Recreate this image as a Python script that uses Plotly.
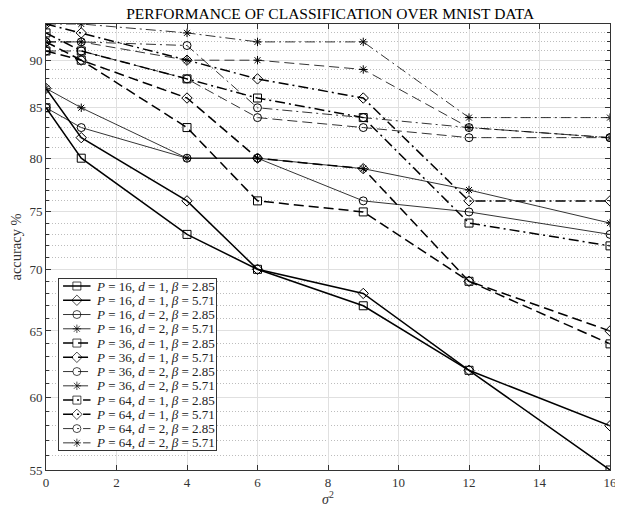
import plotly.graph_objects as go

# ---- data ----
sigma2 = [0, 1, 4, 6, 9, 12, 16]

acc_P16_d1_b285 = [85, 80, 73, 70, 67, 62, 55]
acc_P16_d1_b571 = [87, 82, 76, 70, 68, 62, 58]
acc_P16_d2_b285 = [85, 83, 80, 80, 76, 75, 73]
acc_P16_d2_b571 = [87, 85, 80, 80, 79, 77, 74]

acc_P36_d1_b285 = [91, 90, 83, 76, 75, 69, 64]
acc_P36_d1_b571 = [92, 90, 86, 80, 79, 69, 65]
acc_P36_d2_b285 = [91, 91, 88, 84, 83, 82, 82]
acc_P36_d2_b571 = [92, 92, 90, 90, 89, 83, 82]

acc_P64_d1_b285 = [93, 91, 88, 86, 84, 74, 72]
acc_P64_d1_b571 = [94, 93, 90, 88, 86, 76, 76]
acc_P64_d2_b285 = [92, 92, 91.6, 85, 84, 83, 82]
acc_P64_d2_b571 = [94, 94, 93, 92, 92, 84, 84]

series_names = [
    "<i>P</i> = 16, <i>d</i> = 1, <i>β</i> = 2.85",
    "<i>P</i> = 16, <i>d</i> = 1, <i>β</i> = 5.71",
    "<i>P</i> = 16, <i>d</i> = 2, <i>β</i> = 2.85",
    "<i>P</i> = 16, <i>d</i> = 2, <i>β</i> = 5.71",
    "<i>P</i> = 36, <i>d</i> = 1, <i>β</i> = 2.85",
    "<i>P</i> = 36, <i>d</i> = 1, <i>β</i> = 5.71",
    "<i>P</i> = 36, <i>d</i> = 2, <i>β</i> = 2.85",
    "<i>P</i> = 36, <i>d</i> = 2, <i>β</i> = 5.71",
    "<i>P</i> = 64, <i>d</i> = 1, <i>β</i> = 2.85",
    "<i>P</i> = 64, <i>d</i> = 1, <i>β</i> = 5.71",
    "<i>P</i> = 64, <i>d</i> = 2, <i>β</i> = 2.85",
    "<i>P</i> = 64, <i>d</i> = 2, <i>β</i> = 5.71",
]
series_values = [
    acc_P16_d1_b285, acc_P16_d1_b571, acc_P16_d2_b285, acc_P16_d2_b571,
    acc_P36_d1_b285, acc_P36_d1_b571, acc_P36_d2_b285, acc_P36_d2_b571,
    acc_P64_d1_b285, acc_P64_d1_b571, acc_P64_d2_b285, acc_P64_d2_b571,
]

y_ticks = [55, 60, 65, 70, 75, 80, 85, 90]
x_ticks = [0, 2, 4, 6, 8, 10, 12, 14, 16]

# ---- styles ----
symbols = ["square-open", "diamond-open", "circle-open", "asterisk-open"]
dash_by_P = ["solid", "10px,5px", "10px,4px,2px,4px"]
width_by_d = [1.5, 0.8]

SERIF = "Liberation Serif, DejaVu Serif, serif"
INK = "#333"

fig = go.Figure()


def style(i):
    sym = symbols[i % 4]
    lw = width_by_d[(i % 4) // 2]
    line = dict(color="black", width=lw, dash=dash_by_P[i // 4])
    size = 7 if sym == "asterisk-open" else 8
    return sym, line, size


# main data series
for i, (name, vals) in enumerate(zip(series_names, series_values)):
    sym, line, size = style(i)
    fig.add_trace(go.Scatter(
        x=sigma2, y=vals, name=name, mode="lines+markers", showlegend=False,
        line=line,
        marker=dict(symbol=sym, size=size, color="black",
                    line=dict(color="black", width=1.0)),
        xaxis="x", yaxis="y",
    ))

# compact legend drawn in an inset subplot (x2/y2), one row per series
n = len(series_names)
for i, name in enumerate(series_names):
    sym, line, size = style(i)
    row = n - 0.5 - i
    fig.add_trace(go.Scatter(
        x=[0.025, 0.113, 0.2], y=[row, row, row], mode="lines+markers",
        showlegend=False, hoverinfo="skip", line=line,
        marker=dict(symbol=sym, size=[0, size, 0], color="black",
                    line=dict(color="black", width=1.0)),
        xaxis="x2", yaxis="y2",
    ))

legend_text = [
    dict(text=name, xref="x2", yref="y2", x=0.22, y=n - 0.5 - i,
         xanchor="left", yanchor="middle", showarrow=False,
         font=dict(family=SERIF, size=13, color="#222"))
    for i, name in enumerate(series_names)
]

minor_vals = [v for v in range(55, 95) if v not in y_ticks]

fig.update_layout(
    width=615, height=498,
    margin=dict(l=38, r=6, t=16, b=36),
    paper_bgcolor="white", plot_bgcolor="white",
    font=dict(family=SERIF, color="#222", size=13),
    title=dict(text="PERFORMANCE OF CLASSIFICATION OVER MNIST DATA",
               x=0.524, xanchor="center", y=1.0, yanchor="top",
               yref="container", pad=dict(t=0, b=0),
               font=dict(family=SERIF, size=15.5, color="black")),
    showlegend=False,
    xaxis=dict(range=[0, 16], tickvals=x_ticks, ticks="inside", ticklen=5,
               tickcolor=INK, showline=True, linecolor=INK, linewidth=1,
               mirror="allticks", showgrid=True, gridcolor="#e0e0e0", gridwidth=1,
               zeroline=False, ticklabeloverflow="allow",
               tickfont=dict(family=SERIF, size=13, color=INK)),
    yaxis=dict(type="log", range=[1.74036, 1.97313], tickvals=y_ticks,
               ticks="inside", ticklen=5, tickcolor=INK, showline=True,
               linecolor=INK, linewidth=1, mirror="allticks", showgrid=True,
               gridcolor="#e0e0e0", gridwidth=1, zeroline=False,
               ticklabeloverflow="allow",
               tickfont=dict(family=SERIF, size=13, color=INK),
               minor=dict(tickvals=minor_vals, ticks="inside", ticklen=3,
                          tickcolor=INK, showgrid=True, gridcolor="#bdbdbd",
                          griddash="1px,2px", gridwidth=1)),
    xaxis2=dict(domain=[0.0233, 0.3016], anchor="y2", range=[0, 1],
                showgrid=False, zeroline=False, showticklabels=False, ticks="",
                showline=True, linecolor=INK, linewidth=1, mirror=True,
                fixedrange=True),
    yaxis2=dict(domain=[0.0449, 0.4285], anchor="x2", range=[0, n],
                showgrid=False, zeroline=False, showticklabels=False, ticks="",
                showline=True, linecolor=INK, linewidth=1, mirror=True,
                fixedrange=True),
    annotations=[
        dict(text="<i>σ</i><sup>2</sup>", xref="paper", yref="paper",
             x=0.5, y=-0.062, xanchor="center", yanchor="middle", showarrow=False,
             font=dict(family=SERIF, size=14, color=INK)),
        dict(text="accuracy %", xref="paper", yref="paper", textangle=-90,
             x=-0.054, y=0.5, xanchor="center", yanchor="middle", showarrow=False,
             font=dict(family=SERIF, size=14.5, color=INK)),
    ] + legend_text,
)

fig.write_html("out.html")
